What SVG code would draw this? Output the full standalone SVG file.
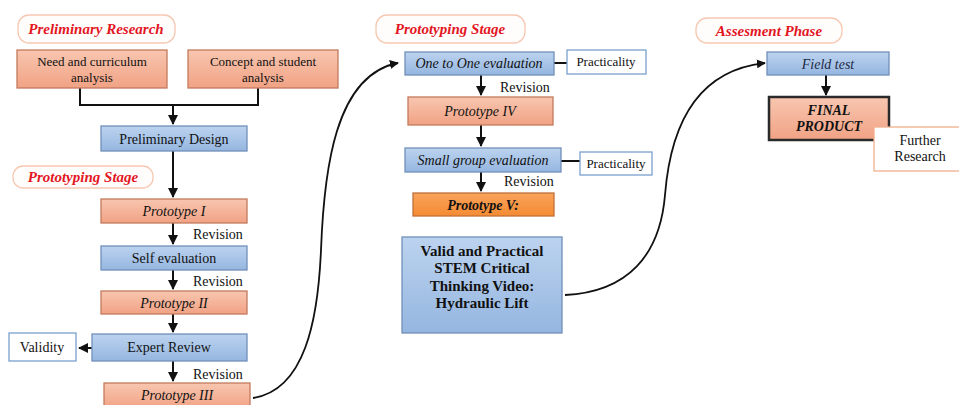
<svg xmlns="http://www.w3.org/2000/svg" width="959" height="405" viewBox="0 0 959 405">
<defs>
<linearGradient id="gSal" x1="0" y1="0" x2="0" y2="1"><stop offset="0" stop-color="#f8c6b0"/><stop offset="1" stop-color="#f1a284"/></linearGradient>
<linearGradient id="gBlue" x1="0" y1="0" x2="0" y2="1"><stop offset="0" stop-color="#bcd3ef"/><stop offset="1" stop-color="#95b6e0"/></linearGradient>
<linearGradient id="gOr" x1="0" y1="0" x2="0" y2="1"><stop offset="0" stop-color="#f9a35c"/><stop offset="1" stop-color="#f58b32"/></linearGradient>
<marker id="arr" viewBox="0 0 10 10" refX="9" refY="5" markerWidth="5" markerHeight="5" orient="auto"><path d="M0,0 L10,5 L0,10 z" fill="#111"/></marker>
</defs>
<style>
text{font-family:'Liberation Serif','DejaVu Serif',serif;fill:#111;}
.sal{fill:url(#gSal);stroke:#c27a5c;stroke-width:1.3;}
.blue{fill:url(#gBlue);stroke:#7090b8;stroke-width:1.3;}
.or{fill:url(#gOr);stroke:#c0703a;stroke-width:1.3;}
.wb{fill:#fff;stroke:#7aa0cc;stroke-width:1.3;}
.wo{fill:#fff;stroke:#f2b08e;stroke-width:1.3;}
.lab{fill:#fffdfc;stroke:#f6c8b2;stroke-width:1.3;}
.lt{font-size:15px;font-weight:bold;font-style:italic;fill:#e3161f;}
.c{text-anchor:middle;}
.t13{font-size:13px;}
.t14{font-size:14px;}
.it{font-style:italic;}
.b{font-weight:bold;}
.ln{fill:none;stroke:#111;stroke-width:2;}
.cv{fill:none;stroke:#111;stroke-width:1.8;}
</style>

<g id="connectors">
<path class="ln" d="M80,88 V105 H258 V88"/>
<path class="ln" d="M173,105 V124" marker-end="url(#arr)"/>
<path class="ln" d="M173,151 V197" marker-end="url(#arr)"/>
<path class="ln" d="M173,223 V244" marker-end="url(#arr)"/>
<path class="ln" d="M173,270 V289" marker-end="url(#arr)"/>
<path class="ln" d="M173,314 V332" marker-end="url(#arr)"/>
<path class="ln" d="M92,348 H79" marker-end="url(#arr)"/>
<path class="ln" d="M173,361 V381" marker-end="url(#arr)"/>
<path class="cv" d="M253,398 C305,390 318,320 321,250 C324,170 335,75 398,63" marker-end="url(#arr)"/>
<path class="ln" d="M481,75 V95" marker-end="url(#arr)"/>
<path class="ln" d="M554,63 H567"/>
<path class="ln" d="M481,125 V146" marker-end="url(#arr)"/>
<path class="ln" d="M561,161 H580"/>
<path class="ln" d="M481,172 V191" marker-end="url(#arr)"/>
<path class="cv" d="M565,295 C628,292 660,255 665,195 C671,120 700,70 765,63" marker-end="url(#arr)"/>
<path class="ln" d="M826,75 V95" marker-end="url(#arr)"/>
</g>

<g font-family="Liberation Serif, DejaVu Serif, serif">
<g id="lbl-preliminary-research"><rect class="lab" x="18" y="15" width="157" height="28" rx="11"/><text class="lt" x="96" y="34" text-anchor="middle">Preliminary Research</text></g>
<g id="lbl-prototyping-1"><rect class="lab" x="13" y="166" width="140" height="22" rx="10"/><text class="lt" x="83" y="182" text-anchor="middle">Prototyping Stage</text></g>
<g id="lbl-prototyping-2"><rect class="lab" x="376" y="15" width="149" height="28" rx="11"/><text class="lt" x="450" y="34" text-anchor="middle">Prototyping Stage</text></g>
<g id="lbl-assesment"><rect class="lab" x="696" y="18" width="146" height="25" rx="11"/><text class="lt" x="769" y="36" text-anchor="middle">Assesment Phase</text></g>

<g id="need"><rect class="sal" x="17" y="50" width="150" height="38"/><text class="c t13" x="92" y="66">Need and curriculum</text><text class="c t13" x="92" y="82">analysis</text></g>
<g id="concept"><rect class="sal" x="188" y="50" width="150" height="38"/><text class="c t13" x="263" y="66">Concept and student</text><text class="c t13" x="263" y="82">analysis</text></g>
<g id="prelim-design"><rect class="blue" x="101" y="126" width="146" height="25"/><text class="c t14" x="174" y="144">Preliminary Design</text></g>
<g id="proto1"><rect class="sal" x="101" y="199" width="146" height="24"/><text class="c t14 it" x="174" y="216">Prototype I</text></g>
<text class="t14" x="193" y="239">Revision</text>
<g id="self-eval"><rect class="blue" x="101" y="246" width="146" height="24"/><text class="c t14" x="174" y="263">Self evaluation</text></g>
<text class="t14" x="193" y="286">Revision</text>
<g id="proto2"><rect class="sal" x="101" y="291" width="146" height="23"/><text class="c t14 it" x="174" y="308">Prototype II</text></g>
<g id="expert"><rect class="blue" x="92" y="334" width="155" height="27"/><text class="c t14" x="169" y="352">Expert Review</text></g>
<g id="validity"><rect class="wb" x="9" y="333" width="67" height="28"/><text class="c t14" x="42" y="352">Validity</text></g>
<text class="t14" x="193" y="379">Revision</text>
<g id="proto3"><rect class="sal" x="104" y="383" width="146" height="26"/><text class="c t14 it" x="177" y="400">Prototype III</text></g>

<g id="one-to-one"><rect class="blue" x="405" y="52" width="149" height="23"/><text class="c t14 it" x="479" y="68">One to One evaluation</text></g>
<g id="pract1"><rect class="wb" x="567" y="50" width="79" height="24"/><text class="c t13" x="606" y="66">Practicality</text></g>
<text class="t14" x="500" y="92">Revision</text>
<g id="proto4"><rect class="sal" x="408" y="97" width="145" height="28"/><text class="c t14 it" x="480" y="116">Prototype IV</text></g>
<g id="small-group"><rect class="blue" x="405" y="148" width="156" height="24"/><text class="c t14 it" x="483" y="165">Small group evaluation</text></g>
<g id="pract2"><rect class="wb" x="580" y="152" width="72" height="23"/><text class="c t13" x="616" y="168">Practicality</text></g>
<text class="t14" x="504" y="186">Revision</text>
<g id="proto5"><rect class="or" x="413" y="193" width="141" height="23"/><text class="c t14 it b" x="483" y="210">Prototype V:</text></g>
<g id="valid-practical"><rect class="blue" x="402" y="237" width="160" height="96"/>
<text class="c b" font-size="15" x="482" y="256">Valid and Practical</text>
<text class="c b" font-size="15" x="482" y="273">STEM Critical</text>
<text class="c b" font-size="15" x="482" y="291">Thinking Video:</text>
<text class="c b" font-size="15" x="482" y="308">Hydraulic Lift</text></g>

<g id="field-test"><rect class="blue" x="767" y="52" width="122" height="23"/><text class="c t14 it" x="828" y="69" style="fill:#1f2a44">Field test</text></g>
<g id="final-product"><rect x="769" y="97" width="120" height="43" fill="url(#gSal)" stroke="#2a2a2a" stroke-width="2.5"/><text class="c t14 it b" x="829" y="115">FINAL</text><text class="c t14 it b" x="829" y="131">PRODUCT</text></g>
<g id="further"><rect class="wo" x="874" y="127" width="90" height="44"/><text class="c t14" x="920" y="145">Further</text><text class="c t14" x="920" y="161">Research</text></g>
</g>
</svg>
